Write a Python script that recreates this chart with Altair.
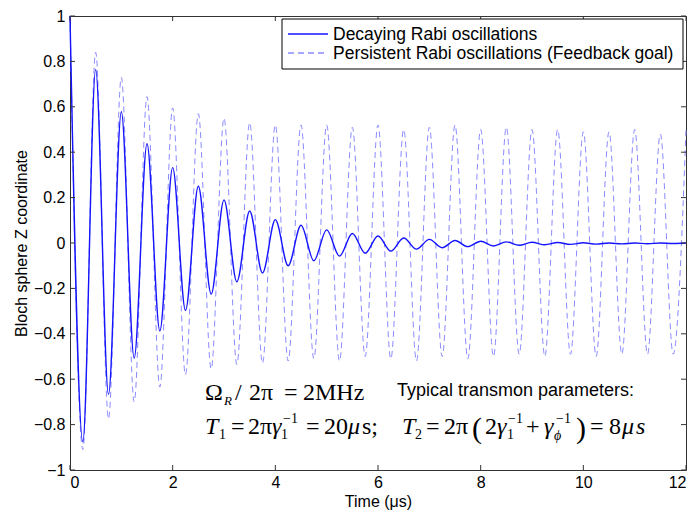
import altair as alt
import pandas as pd

# ---- data ----
times = [0.0, 0.25, 0.5, 0.75, 1.0, 1.25, 1.5, 1.75, 2.0, 2.25, 2.5, 2.75,
         3.0, 3.25, 3.5, 3.75, 4.0, 4.25, 4.5, 4.75, 5.0, 5.25, 5.5, 5.75,
         6.0, 6.25, 6.5, 6.75, 7.0, 7.25, 7.5, 7.75, 8.0, 8.25, 8.5, 8.75,
         9.0, 9.25, 9.5, 9.75, 10.0, 10.25, 10.5, 10.75, 11.0, 11.25, 11.5,
         11.75, 12.0]

decaying = [1.0, -0.876, 0.765, -0.667, 0.578, -0.507, 0.437, -0.387, 0.332,
            -0.297, 0.250, -0.225, 0.190, -0.171, 0.141, -0.132, 0.103, -0.100,
            0.078, -0.078, 0.058, -0.058, 0.042, -0.045, 0.031, -0.036, 0.022,
            -0.027, 0.016, -0.021, 0.011, -0.016, 0.008, -0.013, 0.005, -0.010,
            0.003, -0.008, 0.002, -0.006, 0.001, -0.005, 0.0, -0.004, 0.0,
            -0.003, 0.0, -0.002, 0.0]

persistent = [1.0, -0.91, 0.84, -0.775, 0.73, -0.70, 0.645, -0.635, 0.595,
              -0.58, 0.57, -0.555, 0.55, -0.535, 0.53, -0.53, 0.52, -0.52,
              0.52, -0.51, 0.52, -0.52, 0.51, -0.50, 0.52, -0.51, 0.50, -0.52,
              0.51, -0.50, 0.52, -0.51, 0.50, -0.50, 0.51, -0.49, 0.50, -0.50,
              0.50, -0.49, 0.49, -0.50, 0.49, -0.49, 0.50, -0.49, 0.48, -0.49,
              0.50]

series_names = ["Decaying Rabi oscillations",
                "Persistent Rabi oscillations (Feedback goal)"]
x_ticks = [0, 2, 4, 6, 8, 10, 12]
y_ticks = [-1, -0.8, -0.6, -0.4, -0.2, 0, 0.2, 0.4, 0.6, 0.8, 1]

# ---- chart ----
W, H = 616, 454
X0, Y0 = 70, 16
SERIF = "Liberation Serif"
SANS = "Liberation Sans"
SOLID_COL, DASH_COL = "#1414ff", "#8a8aff"
DASH = [6, 4]

df = pd.DataFrame({
    "t": times + times,
    "z": decaying + persistent,
    "series": [series_names[0]] * len(times) + [series_names[1]] * len(times),
})

xscale = alt.Scale(domain=[0, 12], nice=False, zero=False)
yscale = alt.Scale(domain=[-1, 1], nice=False, zero=False)
xaxis = alt.Axis(values=x_ticks, title="Time (μs)", labelPadding=4,
                 titlePadding=3, format="~g")
yaxis = alt.Axis(values=y_ticks, title="Bloch sphere Z coordinate",
                 labelPadding=5, titlePadding=4, format="~g")


def xenc():
    return alt.X("t:Q", scale=xscale, axis=xaxis)


def yenc():
    return alt.Y("z:Q", scale=yscale, axis=yaxis)


base = alt.Chart(df)
dashed = base.transform_filter(alt.datum.series == series_names[1]).mark_line(
    interpolate="monotone", strokeWidth=1.0, color=DASH_COL,
    strokeDash=DASH).encode(x=xenc(), y=yenc())
solid = base.transform_filter(alt.datum.series == series_names[0]).mark_line(
    interpolate="monotone", strokeWidth=1.4, color=SOLID_COL).encode(
    x=xenc(), y=yenc())

xt = pd.DataFrame({"t": x_ticks})
yt = pd.DataFrame({"z": y_ticks})
TICK = 5
tick_col = "#333333"
bt = alt.Chart(xt).mark_rule(color=tick_col).encode(
    x=xenc(), y=alt.value(H), y2=alt.value(H - TICK))
tt = alt.Chart(xt).mark_rule(color=tick_col).encode(
    x=xenc(), y=alt.value(0), y2=alt.value(TICK))
lt = alt.Chart(yt).mark_rule(color=tick_col).encode(
    y=yenc(), x=alt.value(0), x2=alt.value(TICK))
rt = alt.Chart(yt).mark_rule(color=tick_col).encode(
    y=yenc(), x=alt.value(W), x2=alt.value(W - TICK))

ONE = alt.Data(values=[{}])


def txt(s, x, y, size=24, font=SERIF, style="normal"):
    return alt.Chart(ONE).mark_text(
        text=s, font=font, fontSize=size, fontStyle=style, align="left",
        baseline="alphabetic", color="black").encode(
        x=alt.value(x - X0), y=alt.value(y - Y0))


# ---- legend (drawn by hand, matlab style) ----
LX1, LX2, LY1, LY2 = 282, 683, 19, 69
leg_box = alt.Chart(ONE).mark_rect(fill="white", stroke="black",
                                   strokeWidth=1).encode(
    x=alt.value(LX1 - X0), x2=alt.value(LX2 - X0),
    y=alt.value(LY1 - Y0), y2=alt.value(LY2 - Y0))
leg_solid = alt.Chart(ONE).mark_rule(color=SOLID_COL, strokeWidth=1.3).encode(
    x=alt.value(288 - X0), x2=alt.value(328 - X0), y=alt.value(34 - Y0))
leg_dash = alt.Chart(ONE).mark_rule(color=DASH_COL, strokeWidth=1.3,
                                    strokeDash=DASH).encode(
    x=alt.value(288 - X0), x2=alt.value(328 - X0), y=alt.value(53 - Y0))
leg_t1 = txt(series_names[0], 333, 40, 17.5, font=SANS)
leg_t2 = txt(series_names[1], 333, 59, 17.5, font=SANS)

B1, B2 = 400, 434
texts = [
    txt("Ω", 205, B1),
    txt("R", 224, B1 + 5, 13, style="italic"),
    txt("/", 235, B1),
    txt("2π", 249, B1),
    txt("=", 284, B1),
    txt("2MHz", 303, B1),
    txt("Typical transmon parameters:", 397, 396, 18, font=SANS),
    txt("T", 205, B2, style="italic"),
    txt("1", 219, B2 + 5, 14),
    txt("=", 231, B2),
    txt("2π", 248, B2),
    txt("γ", 272, B2, style="italic"),
    txt("1", 281, B2 + 5, 14),
    txt("−1", 283, B2 - 11, 14),
    txt("=", 306, B2),
    txt("20", 324, B2),
    txt("μ", 348, B2, style="italic"),
    txt("s;", 362, B2),
    txt("T", 402, B2, style="italic"),
    txt("2", 415, B2 + 5, 14),
    txt("=", 426, B2),
    txt("2π", 444, B2),
    txt("(", 472, B2 + 4, 30),
    txt("2", 485, B2),
    txt("γ", 497, B2, style="italic"),
    txt("1", 507, B2 + 5, 14),
    txt("−1", 508, B2 - 11, 14),
    txt("+", 526, B2),
    txt("γ", 544, B2, style="italic"),
    txt("ϕ", 554, B2 + 6, 14, style="italic"),
    txt("−1", 556, B2 - 11, 14),
    txt(")", 576, B2 + 4, 30),
    txt("=", 590, B2),
    txt("8", 609, B2),
    txt("μ", 622, B2, style="italic"),
    txt("s", 636, B2, style="italic"),
]

chart = alt.layer(dashed, solid, bt, tt, lt, rt, leg_box, leg_solid, leg_dash,
                  leg_t1, leg_t2, *texts).properties(
    width=W, height=H,
    autosize=alt.AutoSizeParams(type="none"),
    padding={"left": 62, "top": 8, "right": 6, "bottom": 40},
).configure_view(
    stroke="#333333", strokeWidth=1
).configure_axis(
    grid=False, domain=False, ticks=False,
    labelFont=SANS, labelFontSize=16, labelColor="black",
    titleFont=SANS, titleFontSize=16, titleFontWeight="normal",
    titleColor="black",
)

chart.save("out.html", embed_options={"renderer": "svg", "actions": False})
